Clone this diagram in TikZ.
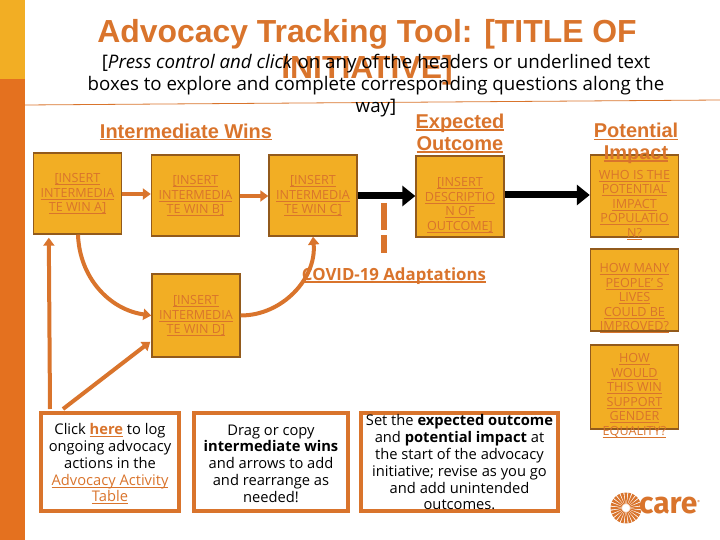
\documentclass[tikz,border=0pt]{standalone}
\usepackage{fontspec}
\setmainfont{Open Sans}
\newfontfamily\headfont{Liberation Sans}
\newfontfamily\logofont{Fira Sans}
\usepackage{xcolor}
\usetikzlibrary{arrows.meta,calc}
\definecolor{careorange}{HTML}{D9742C}
\definecolor{caredeep}{HTML}{E4711F}
\definecolor{careyellow}{HTML}{F2AE24}
\definecolor{careedge}{HTML}{925A1C}
\newcommand{\ulthick}{0.9pt}
\newcommand{\ulbar}[1]{\sbox0{#1}\leavevmode\rlap{\rule[-2.4pt]{\wd0}{\ulthick}}\usebox0}
\tikzset{
    winbox/.style={draw=careedge,fill=careyellow,line width=1.4pt,minimum width=88pt,minimum height=81pt,inner sep=0pt},
    wintext/.style={text=careorange,font=\fontsize{12.6}{14.5}\selectfont,align=center,inner sep=0pt},
    notebox/.style={draw=careorange,line width=4pt,inner sep=0pt},
    notetext/.style={text=black,font=\fontsize{14.7}{16.8}\selectfont,align=center,inner sep=0pt},
    header/.style={text=careorange,font=\def\ulthick{1.7pt}\headfont\bfseries\fontsize{20}{21.7}\selectfont,align=center,inner sep=0pt},
    smallarrow/.style={draw=careorange,line width=4pt,-{Triangle[length=8pt,width=11pt]}},
    bigarrow/.style={draw=black,line width=7pt,-{Triangle[length=13pt,width=20pt]}},
}
\begin{document}
\begin{tikzpicture}[x=1pt,y=-1pt]
    \useasboundingbox (0,0) rectangle (720,540);
    % side bar and rule
    \fill[careyellow] (0,0) rectangle (25,79);
    \fill[caredeep] (0,79) rectangle (25,540);
    \draw[careorange,line width=0.8pt] (25,105) -- (720,100);
    % title
    \node[text=careorange,font=\headfont\bfseries\fontsize{31.9}{36}\selectfont,align=center,inner sep=0pt] (title) at (367,52)
        {Advocacy Tracking Tool: [TITLE OF\\INITIATIVE]};
    \node[font=\fontsize{18.7}{22}\selectfont,align=center,inner sep=0pt] (subtitle) at (376,86)
        {[\emph{Press control and click} on any of the headers or underlined text\\
        boxes to explore and complete corresponding questions along the\\way]};
    % wins, outcome and impact
    \foreach \n/\x/\y/\h/\ty/\l in {
        winA/77.5/193.5/81/194/{\ulbar{[INSERT}\\\ulbar{INTERMEDIA}\\\ulbar{TE WIN A]}},
        winB/195.5/195.5/81/196/{\ulbar{[INSERT}\\\ulbar{INTERMEDIA}\\\ulbar{TE WIN B]}},
        winC/313/195.5/81/196/{\ulbar{[INSERT}\\\ulbar{INTERMEDIA}\\\ulbar{TE WIN C]}},
        winD/196/315.5/83/316/{\ulbar{[INSERT}\\\ulbar{INTERMEDIA}\\\ulbar{TE WIN D]}},
        outcome/460/196.5/81/205/{\ulbar{[INSERT}\\\ulbar{DESCRIPTIO}\\\ulbar{N OF}\\\ulbar{OUTCOME]}},
        impactA/634.5/196/82/205/{\ulbar{WHO IS THE}\\\ulbar{POTENTIAL}\\\ulbar{IMPACT}\\\ulbar{POPULATIO}\\\ulbar{N?}},
        impactB/634.5/290/82/298.5/{\ulbar{HOW MANY}\\\ulbar{PEOPLE’ S}\\\ulbar{LIVES}\\\ulbar{COULD BE}\\\ulbar{IMPROVED?}},
        impactC/634.5/387/84/395.5/{\ulbar{HOW}\\\ulbar{WOULD}\\\ulbar{THIS WIN}\\\ulbar{SUPPORT}\\\ulbar{GENDER}\\\ulbar{EQUALITY?}}}
    {
        \node[winbox,minimum height=\h pt] (\n) at (\x,\y) {};
        \node[wintext] (\n text) at (\x,\ty) {\l};
    }
    % headers
    \node[header] (winshead) at (186,132) {\ulbar{Intermediate Wins}};
    \node[header] (outcomehead) at (460,133.5) {\ulbar{Expected}\\\ulbar{Outcome}};
    \node[header] (impacthead) at (636,143.5) {\ulbar{Potential}\\\ulbar{Impact}};
    \node[text=careorange,font=\def\ulthick{1.7pt}\bfseries\fontsize{16.8}{18}\selectfont,inner sep=0pt] (covid) at (394,276) {\ulbar{COVID-19 Adaptations}};
    % notes
    \node[notebox,minimum width=138pt,minimum height=98pt] (clicknote) at (110,462) {};
    \node[notetext] (clicktext) at (110,464) {Click \textcolor{careorange}{\ulbar{\textbf{here}}} to log\\ongoing advocacy\\actions in the\\
        \textcolor{careorange}{\ulbar{Advocacy Activity}}\\\textcolor{careorange}{\ulbar{Table}}};
    \node[notebox,minimum width=154pt,minimum height=98pt] (dragnote) at (271,462) {};
    \node[notetext] (dragtext) at (271,463.5) {Drag or copy\\\textbf{intermediate wins}\\and arrows to add\\and rearrange as\\needed!};
    \node[notebox,minimum width=197pt,minimum height=98pt] (setnote) at (459.5,462) {};
    \node[notetext] (settext) at (459.5,462.5) {Set the \textbf{expected outcome}\\and \textbf{potential impact} at\\the start of the advocacy\\
        initiative; revise as you go\\and add unintended\\outcomes.};
    % arrows
    \draw[smallarrow] (winA.east |- 0,194) -- (winB.west |- 0,194);
    \draw[smallarrow] (winB.east |- 0,196) -- (winC.west |- 0,196);
    \draw[bigarrow] (winC.east |- 0,196) -- (outcome.west |- 0,196);
    \draw[bigarrow] (outcome.east |- 0,195) -- (impactA.west |- 0,195);
    \draw[smallarrow] ($(winA.south)+(0.5,0)$) to[out=-88,in=172] (winD.west);
    \draw[smallarrow] (winD.east) to[out=0,in=-85] (winC.south);
    \draw[smallarrow] ($(clicknote.north west)+(11,-2)$) -- ($(winA.south west)+(16,3)$);
    \draw[smallarrow] ($(clicknote.north west)+(24,-2)$) -- ($(winD.south west)+(-1,-16)$);
    % dashed line
    \coordinate (dashtop) at (384,203);
    \coordinate (dashend) at (384,253);
    \draw[careorange,line width=6pt,dash pattern=on 27pt off 5pt] (dashtop) -- (dashend);
    % logo
    \coordinate (sun) at (626,508);
    \foreach \a in {0,15,...,345}
        \fill[careorange] ($(sun)+(\a-5:4)$) -- ($(sun)+(\a-6:15.5)$) -- ($(sun)+(\a+5:15.5)$) -- ($(sun)+(\a+5:4)$) -- cycle;
    \node[text=careorange,font=\logofont\bfseries\fontsize{30}{30}\selectfont,anchor=west,inner sep=0pt] (caretext) at (639,506)
        {care{\fontsize{4}{4}\selectfont\raisebox{10pt}{®}}};
\end{tikzpicture}
\end{document}
